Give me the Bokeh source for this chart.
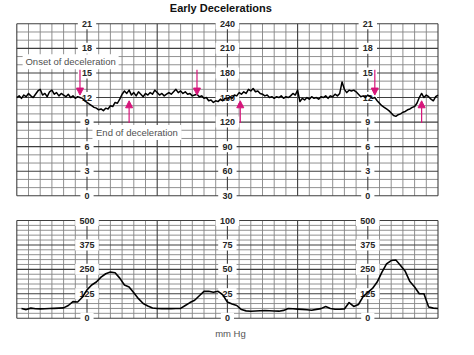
import numpy as np
from bokeh.plotting import figure
from bokeh.models import Range1d, ColumnDataSource, Arrow, NormalHead
from bokeh.core.properties import value
from bokeh.embed import file_html
from bokeh.resources import INLINE

# ---------------- data ----------------
TITLE = "Early Decelerations"
X_LABEL = "mm Hg"
ANNOT_ONSET = "Onset of deceleration"
ANNOT_END = "End of deceleration"

# fetal heart rate (bpm), one reading every 2 s from t = 0 s to 360 s
FHR_DT = 2
FHR_BPM = [
    150, 152, 149, 153, 151, 155, 152, 150, 154, 158, 160, 153, 155, 151, 157, 159, 154, 156, 152, 155,
    153, 151, 154, 150, 152, 149, 151,
    150, 149, 146, 144, 142, 140, 138, 137, 135,
    136, 134, 137, 136, 140, 139, 144, 143, 148, 154,
    158, 155, 159, 153, 156, 152, 157, 154, 151, 155, 153, 156, 154, 159, 156, 153, 155, 152, 154, 156,
    154, 157, 160, 156, 158, 155, 157, 154, 155, 152,
    153, 154, 151, 152, 149, 150, 146, 147, 144, 146, 145, 148, 146, 149, 148, 151, 149, 153, 152, 156,
    154, 157, 155, 160, 158, 161, 157, 158, 155, 154, 152, 153, 150, 151, 149, 151, 150, 152, 149, 151,
    150, 152, 155, 153, 159, 145, 149, 147, 150, 148, 151, 149, 150, 148, 151, 150, 152, 149, 152, 151,
    154, 152, 155, 169, 160,
    156, 159, 158, 159, 157, 154, 151, 152, 150, 153, 151, 149, 150, 146, 143, 140, 138, 136, 134, 131,
    128, 127, 129, 130, 132, 133, 135, 136, 138, 139, 143, 150, 155, 150, 153, 151, 148, 146, 151, 153,
]

# uterine pressure (mm Hg), one reading every 4 s from t = 4 s to 360 s
UC_T0 = 4
UC_DT = 4
UC_MMHG = [
    9.9, 8.8, 10.3, 9.6, 9.5, 9.7, 9.9, 10.1, 10.3, 10.6,
    13, 17, 16.6, 21.5, 29, 34, 37, 42, 45.5, 47.2,
    46.5, 41, 34, 32, 26, 20, 15, 12.5, 10.5, 9.9,
    9.8, 9.8, 9.8, 9.9, 10, 13, 16, 18.4, 23, 27.5,
    27.5, 26.5, 27.5, 24, 16.5, 14.5, 13, 8.8, 7.5, 7.1,
    7.3, 7.6, 7.8, 7.6, 7.3, 7.2, 8.0, 9.9, 9.7, 9.3,
    9.0, 8.6, 8.2, 9.0, 9.8, 12, 10, 9.2, 9.2, 9.5,
    16, 12, 14, 22, 26.5, 30.5, 37, 47, 55.5, 59,
    59.5, 54, 48, 37.5, 32, 25, 25, 11.5, 10.3, 9.9,
]

FHR_LABEL_BPM = [30, 60, 90, 120, 150, 180, 210, 240]
FHR_SIDE_LABELS = ["0", "3", "6", "9", "12", "15", "18", "21"]
FHR_MID_LABELS = ["30", "60", "90", "120", "150", "180", "210", "240"]
UC_LABEL_MMHG = [0, 25, 50, 75, 100]
UC_SIDE_LABELS = ["0", "125", "250", "375", "500"]
UC_MID_LABELS = ["0", "25", "50", "75", "100"]
LABEL_COLUMNS_S = [60, 180, 300]

ONSET_S = [54, 154, 306]
END_S = [96, 191, 346]

# ---------------- layout / style ----------------
W, H = 474, 355
T_MAX = 360
PX_PER_S = 1.17
X0_PX = 16.3
FHR_MIN, FHR_MAX = 30, 240
FHR_TOP_PX, FHR_BOT_PX = 23.3, 195.3
UC_MIN, UC_MAX = 0, 100
UC_TOP_PX, UC_BOT_PX = 220.0, 317.7

MINOR = "#858585"
MAJOR = "#3f3f3f"
MAG = "#d6157a"
FONT = value("Liberation Sans")

fhr_scale = (FHR_BOT_PX - FHR_TOP_PX) / (FHR_MAX - FHR_MIN)
uc_scale = (UC_BOT_PX - UC_TOP_PX) / (UC_MAX - UC_MIN)

x_range = Range1d(-X0_PX / PX_PER_S, (W - X0_PX) / PX_PER_S)
y_range = Range1d(FHR_MIN - (H - FHR_BOT_PX) / fhr_scale, FHR_MIN + FHR_BOT_PX / fhr_scale)
uc_range = Range1d(UC_MIN - (H - UC_BOT_PX) / uc_scale, UC_MIN + UC_BOT_PX / uc_scale)

p = figure(width=W, height=H, x_range=x_range, y_range=y_range,
           x_axis_type=None, y_axis_type=None, min_border=0,
           toolbar_location=None, output_backend="svg")
p.extra_y_ranges = {"uc": uc_range}
p.outline_line_color = None
p.background_fill_color = "white"
p.border_fill_color = "white"


def grid(ylo, yhi, ystep, ymajor, rname):
    for major in (False, True):
        xs0, ys0, xs1, ys1 = [], [], [], []
        for t in range(0, T_MAX + 1, 10):
            is_major = (t % 60 == 0)
            if is_major == major:
                xs0.append(t); xs1.append(t); ys0.append(ylo); ys1.append(yhi)
        yv = ylo
        while yv <= yhi + 1e-9:
            is_major = ((yv - ylo) % ymajor == 0)
            if is_major == major:
                xs0.append(0); xs1.append(T_MAX); ys0.append(yv); ys1.append(yv)
            yv += ystep
        p.segment(xs0, ys0, xs1, ys1, line_color=MAJOR if major else MINOR,
                  line_width=1.1 if major else 0.9, y_range_name=rname)


grid(FHR_MIN, FHR_MAX, 10, 30, "default")
grid(UC_MIN, UC_MAX, 5, 25, "uc")


def tick_labels(col, ys, texts, rname):
    xs = [col] * len(ys)
    widths = [5.2 * len(s) + 8 for s in texts]
    p.rect(xs, ys, width=widths, height=11, width_units="screen", height_units="screen",
           fill_color="white", line_color=None, y_range_name=rname)
    p.text(xs, ys, text=texts, text_font=FONT, text_font_size="9px", text_font_style="bold",
           text_color="#262626", text_align="center", text_baseline="middle", y_range_name=rname)


for i, col in enumerate(LABEL_COLUMNS_S):
    tick_labels(col, FHR_LABEL_BPM, FHR_MID_LABELS if i == 1 else FHR_SIDE_LABELS, "default")
    tick_labels(col, UC_LABEL_MMHG, UC_MID_LABELS if i == 1 else UC_SIDE_LABELS, "uc")


def boxed_note(t, yv, text, w, h):
    p.rect([t], [yv], width=w, height=h, width_units="screen", height_units="screen",
           fill_color="white", line_color=None)
    p.text([t], [yv], text=[text], text_font=FONT, text_font_size="9.5px",
           text_color="#505050", text_align="center", text_baseline="middle")


# annotation boxes
boxed_note(46.0, 193.6, ANNOT_ONSET, 96, 15)
boxed_note(102.7, 107.3, ANNOT_END, 89, 15)

# traces
fhr_t = [FHR_DT * i for i in range(len(FHR_BPM))]
uc_t = [UC_T0 + UC_DT * i for i in range(len(UC_MMHG))]
p.line(fhr_t, FHR_BPM, line_color="black", line_width=1.5, line_join="round")
p.line(uc_t, UC_MMHG, line_color="black", line_width=1.6, line_join="round", y_range_name="uc")

# arrows: onset (down) and end (up)
DOWN_FROM, DOWN_TO = 184, 153
UP_FROM, UP_TO = 119, 146
src = ColumnDataSource(dict(
    x0=ONSET_S + END_S,
    x1=ONSET_S + END_S,
    y0=[DOWN_FROM] * len(ONSET_S) + [UP_FROM] * len(END_S),
    y1=[DOWN_TO] * len(ONSET_S) + [UP_TO] * len(END_S),
))
p.add_layout(Arrow(end=NormalHead(size=7, fill_color=MAG, line_color=MAG, line_width=1),
                   x_start="x0", y_start="y0", x_end="x1", y_end="y1", source=src,
                   line_color=MAG, line_width=1.2))

# title and axis caption
p.text([174.4], [259.5], text=[TITLE], text_font=FONT, text_font_size="11px",
       text_font_style="bold", text_color="#111111", text_align="center", text_baseline="middle")
p.text([182.6], [-15.3], text=[X_LABEL], text_font=FONT, text_font_size="9.5px",
       text_color="#555555", text_align="center", text_baseline="middle", y_range_name="uc")

open("out.html", "w").write(file_html(p, INLINE))
